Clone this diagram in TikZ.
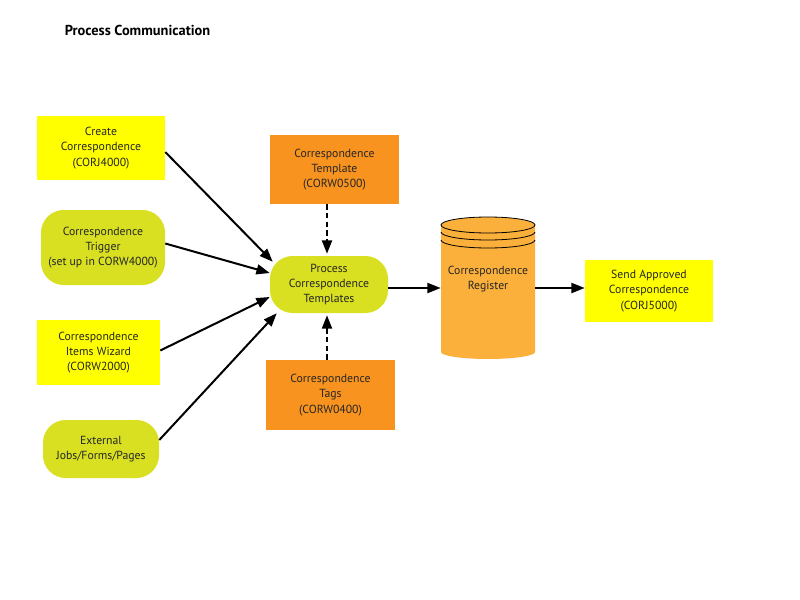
\documentclass[tikz,border=0pt]{standalone}
\usepackage{fontspec}
\setmainfont{PT Sans}
\usetikzlibrary{arrows.meta,calc}
\definecolor{cyellow}{HTML}{FFFF00}
\definecolor{cgreen}{HTML}{D9E021}
\definecolor{corange}{HTML}{F7931E}
\definecolor{clight}{HTML}{FBB03B}
\begin{document}
\begin{tikzpicture}[x=0.75pt,y=-0.75pt,
  txt/.style={font=\fontsize{8.8}{11.5}\selectfont,align=center,text=black!85,inner sep=0pt},
  ybox/.style={txt,fill=cyellow},
  gbox/.style={txt,fill=cgreen,rounded corners=17pt},
  obox/.style={txt,fill=corange},
  arr/.style={line width=1.5pt,-{Triangle[length=10pt,width=7.5pt]}},
  darr/.style={arr,dash pattern=on 4pt off 2.5pt}]
\useasboundingbox (0,0) rectangle (800,600);
\node[font=\fontsize{10.8}{12}\selectfont\bfseries,inner sep=0pt] (title) at (137.5,30) {Process Communication};

\node[ybox,minimum width=96pt,minimum height=48pt] (create) at (101,148) {Create\\Correspondence\\(CORJ4000)};
\node[gbox,minimum width=93pt,minimum height=56.25pt] (trig) at (103,247.5) {Correspondence\\Trigger\\(set up in CORW4000)};
\node[ybox,minimum width=92.25pt,minimum height=48.75pt] (wiz) at (98.5,352.5) {Correspondence\\Items Wizard\\(CORW2000)};
\node[gbox,minimum width=87pt,minimum height=43.5pt] (ext) at (101,449) {External\\Jobs/Forms/Pages};

\node[obox,minimum width=96.75pt,minimum height=51.75pt] (tmpl) at (334.5,169.5) {Correspondence\\Template\\(CORW0500)};
\node[gbox,minimum width=88.5pt,minimum height=42.75pt] (proc) at (329,284.5) {Process\\Correspondence\\Templates};
\node[obox,minimum width=96.75pt,minimum height=52.5pt] (tags) at (330.5,395) {Correspondence\\Tags\\(CORW0400)};

% cylinder
\fill[clight] (441,225) -- (441,352) arc[start angle=180,end angle=0,x radius=47,y radius=7] -- (535,225) -- cycle;
\draw[fill=clight,line width=0.6pt] (488,225) ellipse[x radius=47,y radius=8];
\draw[line width=0.6pt] (441,232) arc[start angle=180,end angle=0,x radius=47,y radius=8];
\draw[line width=0.6pt] (441,240) arc[start angle=180,end angle=0,x radius=47,y radius=8];
\node[minimum width=70.5pt,minimum height=100pt,inner sep=0pt] (reg) at (488,288) {};
\node[txt] (regtxt) at (488,279) {Correspondence\\Register};

\node[ybox,minimum width=96pt,minimum height=46.5pt] (send) at (649,291) {Send Approved\\Correspondence\\(CORJ5000)};

\draw[arr] ([shift={(0,4)}]create.east) -- ([shift={(3,6)}]proc.north west);
\draw[arr] ([shift={(0,-4)}]trig.east) -- ([shift={(0,-11.5)}]proc.west);
\draw[arr] ([shift={(0,-2)}]wiz.east) -- ([shift={(0,12.5)}]proc.west);
\draw[arr] ([shift={(0,-9)}]ext.east) -- ([shift={(7,0)}]proc.south west);
\draw[darr] ([shift={(-2,0)}]proc.north |- tmpl.south) -- ([shift={(-2,-2)}]proc.north);
\draw[darr] ([shift={(-2,0)}]proc.south |- tags.north) -- ([shift={(-2,2)}]proc.south);
\draw[arr] (proc.east |- reg.west) -- (reg.west);
\draw[arr] (reg.east) -- (reg.east -| send.west);
\end{tikzpicture}
\end{document}
